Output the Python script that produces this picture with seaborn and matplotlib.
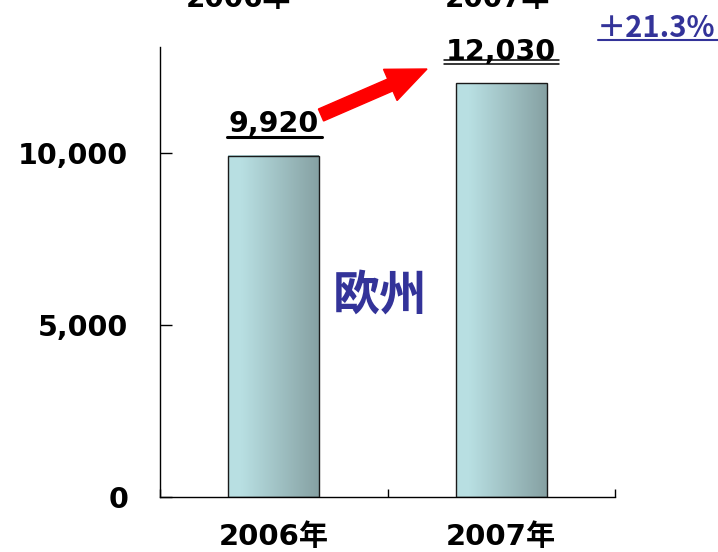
import numpy as np
import pandas as pd
import seaborn as sns
import matplotlib
matplotlib.use("Agg")
import matplotlib.pyplot as plt
import matplotlib.transforms as mtransforms
from matplotlib.colors import LinearSegmentedColormap
from matplotlib.patches import FancyArrow
from matplotlib.lines import Line2D

# ---- data ----
years = ["2006年", "2007年"]
sales = [9920, 12030]
value_labels = ["9,920", "12,030"]
yticks = [0, 5000, 10000]
ytick_labels = ["0", "5,000", "10,000"]
region_label = "欧州"
growth_label = "＋21.3%"

sns.set_theme(style="white")
plt.rcParams["font.family"] = ["DejaVu Sans", "Noto Sans CJK JP"]
plt.rcParams["font.weight"] = "bold"

W, H = 718, 552
fig = plt.figure(figsize=(W / 100, H / 100), dpi=100)
ax = fig.add_axes([160 / W, 55 / H, 455 / W, 450 / H])

df = pd.DataFrame({"year": years, "sales": sales})
sns.barplot(data=df, x="year", y="sales", width=0.4, color="#a0c0c2",
            edgecolor="#1a1a1a", linewidth=1.0, ax=ax)

YMAX = 13080
cmap = LinearSegmentedColormap.from_list(
    "bar", [(0.0, "#b9e0e3"), (0.15, "#b8dfe2"), (1.0, "#86a1a3")])
grad = np.linspace(0, 1, 256).reshape(1, -1)
for p in ax.patches:
    x0, y0 = p.get_x(), p.get_y()
    w, h = p.get_width(), p.get_height()
    p.set_facecolor("none")
    p.set_zorder(3)
    ax.imshow(grad, cmap=cmap, extent=[x0, x0 + w, y0, y0 + h],
              aspect="auto", zorder=2, interpolation="bicubic")
ax.set_xlim(-0.5, 1.5)
ax.set_ylim(0, YMAX)

ax.set_xlabel("")
ax.set_ylabel("")
ax.set_yticks(yticks, ytick_labels)
ax.tick_params(axis="y", direction="in", length=8.6, width=1, color="black",
               pad=23, labelsize=20.5, left=True)
ax.tick_params(axis="x", which="major", length=0, pad=19, labelsize=21)
ax.set_xticks([-0.5, 0.5, 1.5], minor=True)
ax.tick_params(axis="x", which="minor", direction="in", length=6, width=1,
               color="black", bottom=True)
for lbl in ax.get_xticklabels() + ax.get_yticklabels():
    lbl.set_fontweight("bold")
    lbl.set_color("black")

for s in ["top", "right"]:
    ax.spines[s].set_visible(False)
for s in ["left", "bottom"]:
    ax.spines[s].set_color("black")
    ax.spines[s].set_linewidth(1.0)

# value labels
anns = []
for i, (v, lbl) in enumerate(zip(sales, value_labels)):
    a = ax.annotate(lbl, xy=(i, v), xytext=(0, 17), textcoords="offset points",
                    ha="center", va="baseline", fontsize=20.5, fontweight="bold",
                    color="black", zorder=5)
    anns.append(a)

fig.canvas.draw()
ident = mtransforms.IdentityTransform()
for i, (v, a) in enumerate(zip(sales, anns)):
    bb = a.get_window_extent()
    top = ax.transData.transform((i, v))[1]
    if i == 0:
        fig.add_artist(Line2D([bb.x0 - 2, bb.x1 + 3], [top + 19, top + 19],
                              transform=ident, color="black", lw=2.2))
    else:
        for off in (19, 23):
            fig.add_artist(Line2D([bb.x0 - 2, bb.x1 + 3], [top + off, top + off],
                                  transform=ident, color="black", lw=1.1))

# red arrow
fig.add_artist(FancyArrow(3.21, 4.37, 1.06, 0.46, width=0.13, head_width=0.34,
                          head_length=0.40, length_includes_head=True,
                          color="red", transform=fig.dpi_scale_trans))

# top labels (partially cut off at the top edge, as in the reference)
for xc, lbl in zip([238, 497], years):
    fig.text(xc / W, 1 - 7 / H, lbl, ha="center", va="baseline", fontsize=20,
             fontweight="bold", color="black")

fig.text(380 / W, 1 - 296 / H, region_label, ha="center", va="center",
         fontsize=34, color="#333399", fontweight="bold",
         family=["Noto Sans CJK JP"])

fig.text(656 / W, 1 - 37 / H, growth_label, ha="center", va="baseline",
         fontsize=21, color="#333399", fontweight="bold",
         family=["Noto Sans CJK JP", "DejaVu Sans"])
fig.add_artist(Line2D([598, 718], [H - 40, H - 40], transform=ident,
                      color="#333399", lw=1.5))

fig.savefig("out.png", dpi=100)
